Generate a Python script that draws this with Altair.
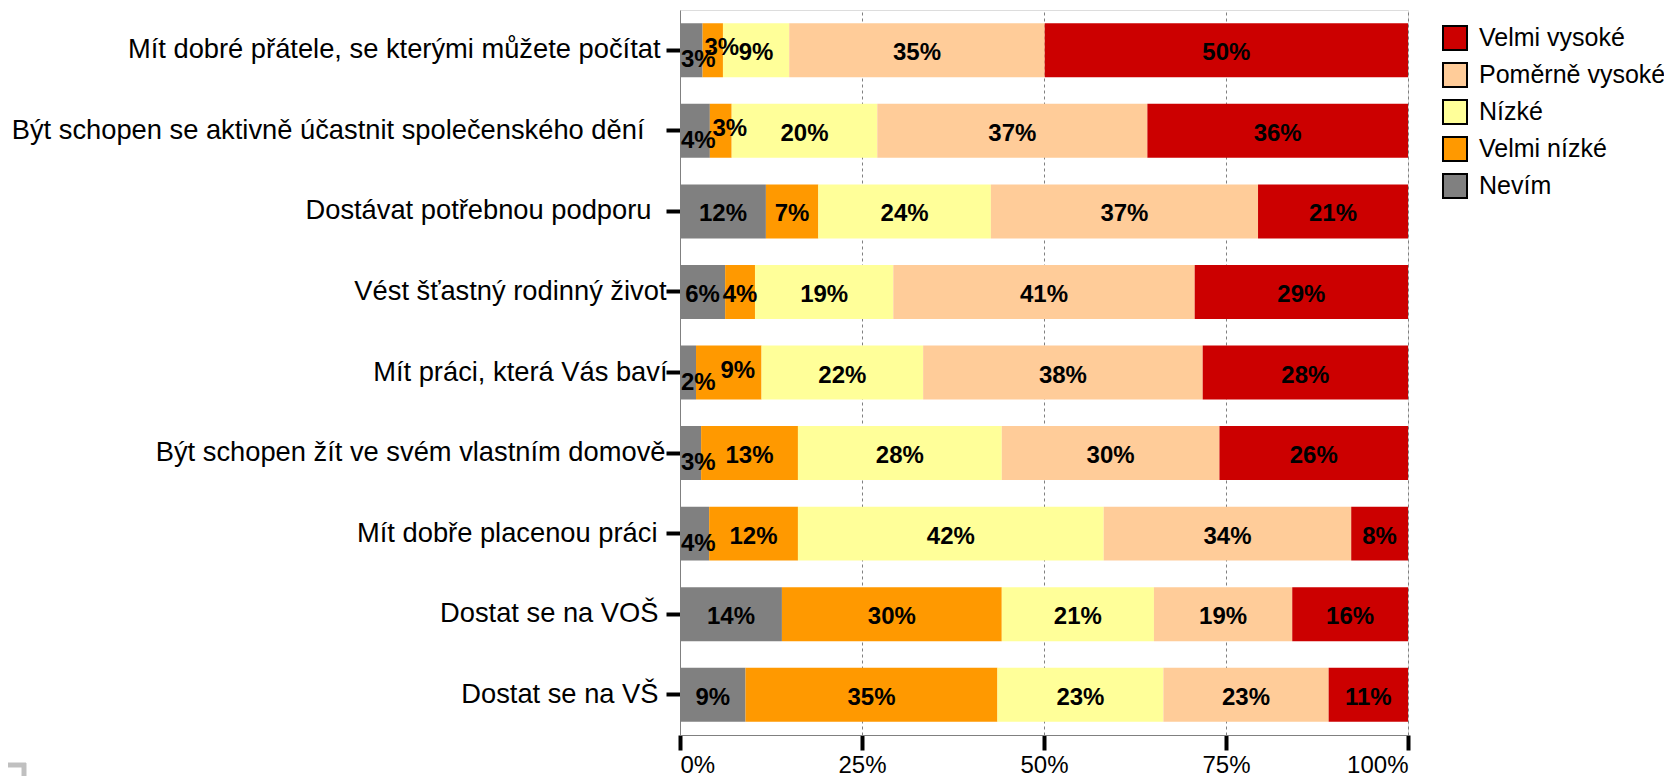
import altair as alt
import pandas as pd

items = [
    "Mít dobré přátele, se kterými můžete počítat",
    "Být schopen se aktivně účastnit společenského dění",
    "Dostávat potřebnou podporu",
    "Vést šťastný rodinný život",
    "Mít práci, která Vás baví",
    "Být schopen žít ve svém vlastním domově",
    "Mít dobře placenou práci",
    "Dostat se na VOŠ",
    "Dostat se na VŠ",
]
categories = ["Nevím", "Velmi nízké", "Nízké", "Poměrně vysoké", "Velmi vysoké"]
legend_order = ["Velmi vysoké", "Poměrně vysoké", "Nízké", "Velmi nízké", "Nevím"]
legend_colors = ["#CC0000", "#FFCC99", "#FFFF99", "#FF9900", "#808080"]

nevim = [3.1, 4.1, 11.8, 6.2, 2.2, 2.9, 4.0, 14.0, 9.0]
velmi_nizke = [2.8, 3.0, 7.2, 4.1, 9.0, 13.3, 12.2, 30.2, 34.6]
nizke = [9.1, 20.0, 23.7, 19.0, 22.2, 28.0, 42.0, 20.9, 22.8]
pomerne_vysoke = [35.1, 37.1, 36.7, 41.4, 38.4, 29.9, 34.0, 19.0, 22.7]
velmi_vysoke = [49.9, 35.8, 20.6, 29.3, 28.2, 25.9, 7.8, 15.9, 10.9]
series = [nevim, velmi_nizke, nizke, pomerne_vysoke, velmi_vysoke]

FONT = "Liberation Sans"

rows = []
for i, item in enumerate(items):
    for k, cat in enumerate(categories):
        v = series[k][i]
        # label placement class (mimics the original's collision nudging)
        pos = "mid"
        if k == 0 and v < 5:
            pos = "down"
        if k == 1 and nevim[i] < 5 and v < 10:
            pos = "up"
        rows.append(dict(item=item, cat=cat, order=k, value=v,
                         label=f"{round(v)}%", pos=pos))
df = pd.DataFrame(rows)

# per-label padding so the category labels sit like in the original (right-aligned with its spacing quirks)
label_pad = {
    "Být schopen se aktivně účastnit společenského dění": 22,
    "Dostávat potřebnou podporu": 15,
    "Vést šťastný rodinný život": 0,
    "Mít práci, která Vás baví": -1,
    "Být schopen žít ve svém vlastním domově": 1,
    "Mít dobře placenou práci": 9,
    "Dostat se na VOŠ": 8,
    "Dostat se na VŠ": 8,
}
pad_cond = {
    "condition": [
        {"test": f"datum.value === '{name}'", "value": p} for name, p in label_pad.items()
    ],
    "value": 6,
}

y_axis = alt.Axis(
    title=None, labelFontSize=27.3, labelFont=FONT, labelColor="black",
    tickColor="black", tickWidth=4, tickSize=14, domainColor="#808080",
    labelLimit=900,
)
y_axis["labelPadding"] = pad_cond

y_enc = alt.Y(
    "item:N",
    sort=items,
    scale=alt.Scale(paddingInner=0.33, paddingOuter=0.165),
    axis=y_axis,
)

base = alt.Chart(df).transform_stack(
    stack="value", groupby=["item"], sort=[alt.SortField("order")], as_=["x0", "x1"]
).transform_calculate(mid="(datum.x0 + datum.x1) / 2")

bars = base.mark_bar().encode(
    x=alt.X(
        "x0:Q",
        scale=alt.Scale(domain=[0, 100], nice=False),
        axis=alt.Axis(
            values=[0, 25, 50, 75, 100], labelExpr="datum.value + '%'",
            grid=True, gridDash=[3, 3], gridColor="#808080", gridWidth=1,
            tickColor="black", tickWidth=4, tickSize=15, domainColor="#808080",
            labelFontSize=24, labelFont=FONT, labelColor="black", labelPadding=3,
            title=None,
        ),
    ),
    x2="x1:Q",
    y=y_enc,
    color=alt.Color(
        "cat:N",
        scale=alt.Scale(domain=legend_order, range=legend_colors),
        legend=alt.Legend(
            title=None, orient="none", legendX=762, legendY=15,
            symbolType="square", symbolSize=576, symbolStrokeColor="black",
            symbolStrokeWidth=2, symbolOpacity=1, labelFontSize=25, labelFont=FONT,
            labelColor="black", labelOffset=11, rowPadding=5, labelLimit=400,
        ),
    ),
)

def labels(pos, xfield, align, dx, dy):
    return base.transform_filter(alt.datum.pos == pos).mark_text(
        font=FONT, fontWeight="bold", fontSize=24, color="black",
        baseline="middle", align=align, dx=dx, dy=dy,
    ).encode(x=f"{xfield}:Q", y=alt.Y("item:N", sort=items), text="label:N")

corner = pd.DataFrame({"a": [0]})
bracket_h = alt.Chart(corner).mark_rule(color="#c0c0c0", strokeWidth=5).encode(
    x=alt.value(-672), x2=alt.value(-654), y=alt.value(755)
)
bracket_v = alt.Chart(corner).mark_rule(color="#c0c0c0", strokeWidth=5).encode(
    x=alt.value(-656), y=alt.value(753), y2=alt.value(770)
)

chart = alt.layer(
    bars,
    labels("mid", "mid", "center", 0, 3),
    labels("down", "x0", "left", 1, 10),
    labels("up", "mid", "center", 9, -2),
    bracket_h,
    bracket_v,
).properties(
    width=728,
    height=725,
    autosize=alt.AutoSizeParams(type="none"),
    padding={"left": 672, "top": 2, "right": 256, "bottom": 41},
).configure_view(
    stroke="#808080", strokeWidth=1
).configure(background="white")

chart.save("out.html", embed_options={"renderer": "svg", "actions": False})
